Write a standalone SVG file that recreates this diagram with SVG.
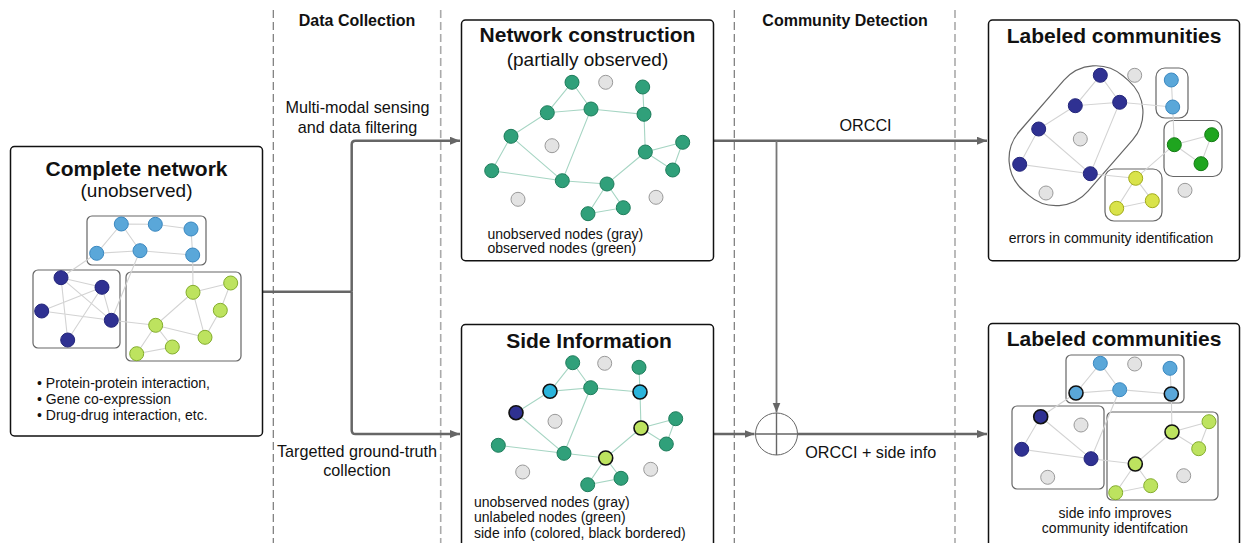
<svg xmlns="http://www.w3.org/2000/svg" width="1246" height="543" viewBox="0 0 1246 543">
<style>
text{font-family:"Liberation Sans",Arial,sans-serif;fill:#111}
.title{font-size:21px;font-weight:bold;text-anchor:middle}
.sub{font-size:19px;text-anchor:middle}
.hdr{font-size:16px;font-weight:bold;text-anchor:middle}
.lbl{font-size:16.2px;text-anchor:middle}
.sm{font-size:14px}
.smc{font-size:14px;text-anchor:middle}
.box{fill:#fff;stroke:#111;stroke-width:1.5}
.grp{fill:none;stroke:#666;stroke-width:1.2}
.dash{stroke:#777;stroke-width:1.2;stroke-dasharray:8 4;fill:none}
.dash2{stroke:#aaa;stroke-width:1.6;stroke-dasharray:8 4;fill:none}
.e{fill:none;stroke:#d3d3d3;stroke-width:1.1}
.et{fill:none;stroke:#a6d5c3;stroke-width:1.1}
.con{fill:none;stroke:#666;stroke-width:2.5}
.con2{fill:none;stroke:#777;stroke-width:1.8}
circle{stroke-width:1}
.n{fill:#30a07a;stroke:#1f7d5c}
.g{fill:#e3e3e3;stroke:#9a9a9a}
.lb{fill:#5aa7d9;stroke:#3b88c0}
.db{fill:#2f3192;stroke:#24267a}
.yg{fill:#bde35f;stroke:#84ad2e}
.cy{fill:#2ab4db}
.bg{fill:#1fa51f;stroke:#137a13}
.ye{fill:#d9e34a;stroke:#a3ab1c}
.bb{stroke:#111;stroke-width:1.6}
</style>
<defs>
<marker id="ah" markerWidth="11" markerHeight="9" refX="10" refY="4" orient="auto" markerUnits="userSpaceOnUse">
<path d="M0,0 L10,4 L0,8 z" fill="#666"/>
</marker>
</defs>
<rect width="1246" height="543" fill="#fff"/>

<g id="lanes">
<line class="dash" x1="273.3" y1="10" x2="273.3" y2="543"/>
<line class="dash2" x1="440.7" y1="10" x2="440.7" y2="543"/>
<line class="dash" x1="734.3" y1="10" x2="734.3" y2="543"/>
<line class="dash2" x1="955" y1="10" x2="955" y2="543"/>
<text class="hdr" x="357" y="26">Data Collection</text>
<text class="hdr" x="845" y="26">Community Detection</text>
</g>

<g id="connectors">
<path class="con" d="M262.5,291.7 H351.7"/>
<path class="con" d="M351.7,291.7 V144.5 Q351.7,140.7 355.5,140.7 H460" marker-end="url(#ah)"/>
<path class="con" d="M351.7,291.7 V430.2 Q351.7,434 355.5,434 H460" marker-end="url(#ah)"/>
<path class="con" d="M713.5,140.7 H987" marker-end="url(#ah)"/>
<path class="con2" d="M776.5,140.7 V412.5" marker-end="url(#ah)"/>
<path class="con" d="M713.5,434 H754.5" marker-end="url(#ah)"/>
<path class="con" d="M797.5,434 H987" marker-end="url(#ah)"/>
<text class="lbl" x="357.5" y="113">Multi-modal sensing</text>
<text class="lbl" x="357.5" y="133">and data filtering</text>
<text class="lbl" x="357" y="457">Targetted ground-truth</text>
<text class="lbl" x="357" y="476">collection</text>
<text class="lbl" x="865.5" y="131">ORCCI</text>
<text class="lbl" x="870.7" y="458">ORCCI + side info</text>
</g>

<g id="combine">
<circle cx="776.5" cy="434" r="21" fill="#fff" stroke="#666" stroke-width="1.6"/>
<path d="M755.5,434 H797.5 M776.5,413 V455" stroke="#666" stroke-width="1.4" fill="none"/>
</g>

<g id="complete-network">
<rect class="box" x="10.5" y="146.5" width="252" height="289.5" rx="4"/>
<text class="title" x="136.5" y="176">Complete network</text>
<text class="sub" x="136.5" y="197">(unobserved)</text>
<rect class="grp" x="87" y="216" width="119" height="49" rx="5"/>
<rect class="grp" x="33" y="270" width="87" height="78" rx="5"/>
<rect class="grp" x="126" y="272" width="115" height="89" rx="5"/>
<path class="e" d="M121.3,224 L155.3,224.3 L191,229 M121.3,224 L96.7,253.3 L140,250.7 L192.7,255 M121.3,224 L140,250.7 M191,229 L192.7,255 L193,292.3 M96.7,253.3 L61,277.7 M140,250.7 L111.3,320.3 M61,277.7 L102,287.3 M61,277.7 L111.3,320.3 M61,277.7 L67.7,340 M102,287.3 L41.7,311 M102,287.3 L67.7,340 M102,287.3 L111.3,320.3 M41.7,311 L111.3,320.3 M111.3,320.3 L155.7,325.3 M193,292.3 L230.7,283 L220.3,310.3 L205,337.3 L193,292.3 L155.7,325.3 L205,337.3 M155.7,325.3 L172.3,347 L136.7,353.7 L155.7,325.3"/>
<circle class="lb" cx="121.3" cy="224" r="7"/><circle class="lb" cx="155.3" cy="224.3" r="7"/><circle class="lb" cx="191" cy="229" r="7"/>
<circle class="lb" cx="96.7" cy="253.3" r="7"/><circle class="lb" cx="140" cy="250.7" r="7"/><circle class="lb" cx="192.7" cy="255" r="7"/>
<circle class="db" cx="61" cy="277.7" r="7"/><circle class="db" cx="102" cy="287.3" r="7"/><circle class="db" cx="41.7" cy="311" r="7"/>
<circle class="db" cx="111.3" cy="320.3" r="7"/><circle class="db" cx="67.7" cy="340" r="7"/>
<circle class="yg" cx="193" cy="292.3" r="7"/><circle class="yg" cx="230.7" cy="283" r="7"/><circle class="yg" cx="220.3" cy="310.3" r="7"/>
<circle class="yg" cx="155.7" cy="325.3" r="7"/><circle class="yg" cx="205" cy="337.3" r="7"/><circle class="yg" cx="172.3" cy="347" r="7"/><circle class="yg" cx="136.7" cy="353.7" r="7"/>
<text class="sm" x="37" y="388">• Protein-protein interaction,</text>
<text class="sm" x="37" y="404">• Gene co-expression</text>
<text class="sm" x="37" y="420">• Drug-drug interaction, etc.</text>
</g>

<g id="network-construction">
<rect class="box" x="461.5" y="20" width="252" height="240.7" rx="4"/>
<text class="title" x="587.5" y="42">Network construction</text>
<text class="sub" x="587.5" y="66">(partially observed)</text>
<path class="et" d="M572,82.3 L547.3,112.7 L591,109 L572,82.3 M547.3,112.7 L511,136.3 L562.3,180.7 L591,109 L644,114.3 L642.7,87 M644,114.3 L645.3,152 L682.7,142.3 L672.7,170 L645.3,152 L607,184 L562.3,180.7 L491.7,170.7 L511,136.3 M607,184 L623.3,207.7 L588,213.7 L607,184"/>
<circle class="n" cx="572" cy="82.3" r="7"/><circle class="g" cx="605.7" cy="82.3" r="7"/><circle class="n" cx="642.7" cy="87" r="7"/>
<circle class="n" cx="547.3" cy="112.7" r="7"/><circle class="n" cx="591" cy="109" r="7"/><circle class="n" cx="644" cy="114.3" r="7"/>
<circle class="n" cx="511" cy="136.3" r="7"/><circle class="g" cx="552" cy="145.7" r="7"/><circle class="n" cx="645.3" cy="152" r="7"/>
<circle class="n" cx="682.7" cy="142.3" r="7"/><circle class="n" cx="491.7" cy="170.7" r="7"/><circle class="n" cx="672.7" cy="170" r="7"/>
<circle class="n" cx="562.3" cy="180.7" r="7"/><circle class="n" cx="607" cy="184" r="7"/><circle class="g" cx="518" cy="199.3" r="7"/>
<circle class="g" cx="656" cy="197.3" r="7"/><circle class="n" cx="623.3" cy="207.7" r="7"/><circle class="n" cx="588" cy="213.7" r="7"/>
<text class="sm" x="487.5" y="238.5">unobserved nodes (gray)</text>
<text class="sm" x="487.5" y="253">observed nodes (green)</text>
</g>

<g id="side-information">
<rect class="box" x="461.5" y="324.5" width="252" height="226" rx="4"/>
<text class="title" x="589" y="348">Side Information</text>
<path class="et" d="M572.7,362.7 L550,391.3 L590.7,387.7 L572.7,362.7 M550,391.3 L516,412.7 L564,453.3 L590.7,387.7 L640,392 L639,367.3 M640,392 L641,428 L675.7,418.7 L666.3,444 L641,428 L605.7,458 L564,453.3 L498.3,445.3 M605.7,458 L621,478.3 L587.7,484.7 L605.7,458"/>
<circle class="n" cx="572.7" cy="362.7" r="7"/><circle class="g" cx="604.7" cy="363.3" r="7"/><circle class="n" cx="639" cy="367.3" r="7"/>
<circle class="cy bb" cx="550" cy="391.3" r="7"/><circle class="n" cx="590.7" cy="387.7" r="7"/><circle class="cy bb" cx="640" cy="392" r="7"/>
<circle class="db bb" cx="516" cy="412.7" r="7"/><circle class="g" cx="555" cy="421.3" r="7"/><circle class="yg bb" cx="641" cy="428" r="7"/>
<circle class="n" cx="675.7" cy="418.7" r="7"/><circle class="n" cx="498.3" cy="445.3" r="7"/><circle class="n" cx="666.3" cy="444" r="7"/>
<circle class="n" cx="564" cy="453.3" r="7"/><circle class="yg bb" cx="605.7" cy="458" r="7"/><circle class="g" cx="522.7" cy="472" r="7"/>
<circle class="g" cx="650.7" cy="469.3" r="7"/><circle class="n" cx="621" cy="478.3" r="7"/><circle class="n" cx="587.7" cy="484.7" r="7"/>
<text class="sm" x="474" y="507">unobserved nodes (gray)</text>
<text class="sm" x="474" y="522">unlabeled nodes (green)</text>
<text class="sm" x="474" y="538">side info (colored, black bordered)</text>
</g>

<g id="labeled-communities-orcci">
<rect class="box" x="988.5" y="20" width="251" height="240.7" rx="4"/>
<text class="title" x="1114" y="43">Labeled communities</text>
<rect class="grp" x="1000" y="90.2" width="152" height="91" rx="42" transform="rotate(-49 1076 135.7)"/>
<rect class="grp" x="1156" y="68" width="32" height="50" rx="9"/>
<rect class="grp" x="1164" y="120.5" width="58" height="56" rx="9"/>
<rect class="grp" x="1105" y="169" width="57" height="52" rx="9"/>
<path class="e" d="M1100.3,75.3 L1075.3,105.7 L1119.7,102.3 L1100.3,75.3 M1075.3,105.7 L1038.7,129 L1090.3,173.7 L1119.7,102.3 L1172.7,107 L1171.3,80 M1172.7,107 L1174.3,144.7 L1211.7,134.7 L1201,163.7 L1174.3,144.7 L1135.7,178.3 L1090.3,173.7 L1019.7,164.3 L1038.7,129 M1135.7,178.3 L1152.3,200.7 L1116.7,208.3 L1135.7,178.3"/>
<circle class="db" cx="1100.3" cy="75.3" r="7"/><circle class="g" cx="1134.7" cy="75.3" r="7"/><circle class="lb" cx="1171.3" cy="80" r="7"/>
<circle class="db" cx="1075.3" cy="105.7" r="7"/><circle class="db" cx="1119.7" cy="102.3" r="7"/><circle class="lb" cx="1172.7" cy="107" r="7"/>
<circle class="db" cx="1038.7" cy="129" r="7"/><circle class="g" cx="1080.3" cy="139" r="7"/><circle class="bg" cx="1174.3" cy="144.7" r="7"/>
<circle class="bg" cx="1211.7" cy="134.7" r="7"/><circle class="bg" cx="1201" cy="163.7" r="7"/><circle class="db" cx="1019.7" cy="164.3" r="7"/>
<circle class="db" cx="1090.3" cy="173.7" r="7"/><circle class="ye" cx="1135.7" cy="178.3" r="7"/><circle class="g" cx="1185" cy="190.3" r="7"/>
<circle class="g" cx="1046" cy="193" r="7"/><circle class="ye" cx="1116.7" cy="208.3" r="7"/><circle class="ye" cx="1152.3" cy="200.7" r="7"/>
<text class="smc" x="1111" y="243">errors in community identification</text>
</g>

<g id="labeled-communities-side">
<rect class="box" x="988.5" y="323.5" width="251" height="226" rx="4"/>
<text class="title" x="1114" y="346">Labeled communities</text>
<rect class="grp" x="1066" y="355" width="118" height="48" rx="5"/>
<rect class="grp" x="1012" y="406" width="92" height="83" rx="5"/>
<rect class="grp" x="1107" y="412" width="111" height="88" rx="5"/>
<path class="e" d="M1100.3,363.3 L1076,393 L1119.7,389.7 L1100.3,363.3 M1076,393 L1040.7,416.7 L1091,458.7 L1119.7,389.7 L1171.3,394 L1170,368.3 M1171.3,394 L1172,432 L1209,421.7 L1198.7,448.7 L1172,432 L1135.3,464 L1091,458.7 L1021.7,449.3 L1040.7,416.7 M1135.3,464 L1150.7,485.7 L1115.7,492.7 L1135.3,464"/>
<circle class="lb" cx="1100.3" cy="363.3" r="7"/><circle class="g" cx="1134.7" cy="364" r="7"/><circle class="lb" cx="1170" cy="368.3" r="7"/>
<circle class="lb bb" cx="1076" cy="393" r="7"/><circle class="lb" cx="1119.7" cy="389.7" r="7"/><circle class="lb bb" cx="1171.3" cy="394" r="7"/>
<circle class="db bb" cx="1040.7" cy="416.7" r="7"/><circle class="g" cx="1081" cy="425" r="7"/><circle class="yg bb" cx="1172" cy="432" r="7"/>
<circle class="yg" cx="1209" cy="421.7" r="7"/><circle class="yg" cx="1198.7" cy="448.7" r="7"/><circle class="db" cx="1021.7" cy="449.3" r="7"/>
<circle class="db" cx="1091" cy="458.7" r="7"/><circle class="yg bb" cx="1135.3" cy="464" r="7"/><circle class="g" cx="1183.7" cy="475.7" r="7"/>
<circle class="g" cx="1047.7" cy="477.3" r="7"/><circle class="yg" cx="1150.7" cy="485.7" r="7"/><circle class="yg" cx="1115.7" cy="492.7" r="7"/>
<text class="smc" x="1115" y="518">side info improves</text>
<text class="smc" x="1115" y="533">community identifcation</text>
</g>
</svg>
